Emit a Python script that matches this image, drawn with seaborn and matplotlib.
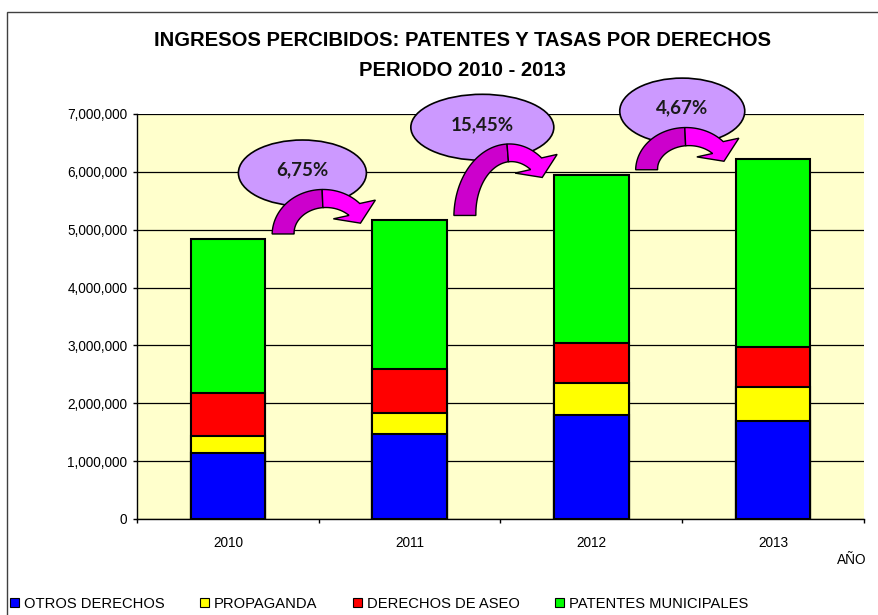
import numpy as np
import pandas as pd
import matplotlib
matplotlib.use("Agg")
import matplotlib.pyplot as plt
import seaborn as sns
from matplotlib.patches import Ellipse, Polygon, Patch, Rectangle
from matplotlib.transforms import IdentityTransform
from matplotlib.ticker import MultipleLocator, FuncFormatter, FixedLocator

# ---------------- data ----------------
years = ["2010", "2011", "2012", "2013"]
otros_derechos = [1140000, 1470000, 1790000, 1700000]
propaganda = [300000, 370000, 560000, 580000]
derechos_aseo = [740000, 760000, 690000, 700000]
patentes_municipales = [2660000, 2560000, 2910000, 3250000]
series_names = ["OTROS DERECHOS", "PROPAGANDA", "DERECHOS DE ASEO", "PATENTES MUNICIPALES"]
growth_labels = ["6,75%", "15,45%", "4,67%"]
title_lines = ["INGRESOS PERCIBIDOS: PATENTES Y TASAS POR DERECHOS", "PERIODO 2010 - 2013"]
x_axis_label = "AÑO"

colors = ["#0000FF", "#FFFF00", "#FF0000", "#00FF00"]

plt.rcParams["font.family"] = ["Liberation Sans", "DejaVu Sans"]

W, H = 879, 615
fig = plt.figure(figsize=(W / 100, H / 100), dpi=100)
fig.patch.set_facecolor("white")
ax = fig.add_axes([137 / W, 96 / H, 727 / W, 405 / H])

df = pd.DataFrame({
    "year": years,
    "otros": otros_derechos,
    "prop": propaganda,
    "aseo": derechos_aseo,
    "pat": patentes_municipales,
})
df["c1"] = df["otros"]
df["c2"] = df["c1"] + df["prop"]
df["c3"] = df["c2"] + df["aseo"]
df["c4"] = df["c3"] + df["pat"]

bar_w = 0.41
for col, colr in reversed(list(zip(["c1", "c2", "c3", "c4"], colors))):
    sns.barplot(data=df, x="year", y=col, color=colr, saturation=1, width=bar_w,
                edgecolor="black", linewidth=1.5, errorbar=None, ax=ax, zorder=3)

ax.set_xlim(-0.5, 3.5)
ax.set_ylim(0, 7000000)
ax.set_facecolor("#FFFFCC")
ax.yaxis.set_major_locator(MultipleLocator(1000000))
ax.yaxis.set_major_formatter(FuncFormatter(lambda v, p: f"{v:,.0f}"))
ax.grid(axis="y", color="black", linewidth=0.9)
ax.grid(axis="x", visible=False)
ax.set_axisbelow(True)
for s in ["top", "right"]:
    ax.spines[s].set_visible(False)
for s in ["left", "bottom"]:
    ax.spines[s].set_color("black")
    ax.spines[s].set_linewidth(1.0)
ax.set_xlabel("")
ax.set_ylabel("")
ax.tick_params(axis="y", length=3, width=1, pad=4, labelsize=9.8, colors="black")
ax.xaxis.set_minor_locator(FixedLocator([-0.5, 0.5, 1.5, 2.5, 3.5]))
ax.tick_params(axis="x", which="major", length=0, pad=12, labelsize=9.8, colors="black")
ax.tick_params(axis="x", which="minor", length=3, width=1, color="black")

fig.text(852 / W, 1 - 560 / H, x_axis_label, ha="center", va="center", fontsize=9.8)

fig.text(462 / W, 1 - 40 / H, title_lines[0], ha="center", va="center",
         fontsize=14.6, fontweight="bold")
fig.text(462 / W, 1 - 70 / H, title_lines[1], ha="center", va="center",
         fontsize=14.6, fontweight="bold")

# outer chart border
fig.add_artist(Rectangle((7 / W, -0.1), 2, (H - 12) / H + 0.1, transform=fig.transFigure,
                         fill=False, edgecolor="#404040", linewidth=1.0))

# legend
handles = [Patch(facecolor=c, edgecolor="black", linewidth=0.8) for c in colors]
fig.legend(handles, series_names, ncol=4, loc="center left",
           bbox_to_anchor=(10 / W, 1 - 604 / H), frameon=False,
           handlelength=0.6, handleheight=0.6, handletextpad=0.35,
           columnspacing=2.4, fontsize=10.6, borderaxespad=0, borderpad=0)

# ---------------- growth ellipses and curved arrows ----------------
totals = df["c4"].tolist()
tr = ax.transData
ell_dx = [0.41, 0.40, 0.50]
ell_w = [128, 143, 125]
ell_h = 66


def curved_arrow(T, Hd, top_outer, w0=22, w1=16, head_len=15, head_half=23,
                 head_deg=-66, split=1.62):
    cy = T[1]
    ry = top_outer - 9.5 - cy
    s = np.clip((Hd[1] - cy) / ry, -0.9, 0.9)
    te = np.arcsin(s)
    c = np.cos(te)
    rx = (Hd[0] - T[0]) / (1 + c)
    cx = T[0] + rx
    n = 90
    th = np.linspace(np.pi, te, n)
    w = np.linspace(w0, w1, n)
    P = np.column_stack([cx + rx * np.cos(th), cy + ry * np.sin(th)])
    Nn = np.column_stack([np.cos(th) / rx, np.sin(th) / ry])
    Nn /= np.linalg.norm(Nn, axis=1)[:, None]
    outer = P + Nn * w[:, None] / 2
    inner = P - Nn * w[:, None] / 2
    a = np.deg2rad(head_deg)
    d = np.array([np.cos(a), np.sin(a)])
    nh = np.array([-d[1], d[0]])
    Hp = P[-1]
    ob = Hp + head_half * nh
    ib = Hp - head_half * nh
    tip = Hp + head_len * d
    k = int(np.argmin(np.abs(th - split)))
    dark = np.vstack([outer[:k + 1], inner[:k + 1][::-1]])
    light = np.vstack([outer[k:], ob, tip, ib, inner[k:][::-1]])
    ax.add_patch(Polygon(dark, closed=True, facecolor="#CC00CC", edgecolor="black",
                         linewidth=1.0, transform=IdentityTransform(), clip_on=False, zorder=7))
    ax.add_patch(Polygon(light, closed=True, facecolor="#FF00FF", edgecolor="black",
                         linewidth=1.0, transform=IdentityTransform(), clip_on=False, zorder=8))


for i in range(3):
    ex, ey = tr.transform((i + ell_dx[i], totals[i + 1] + 820000))
    ax.add_patch(Ellipse((ex, ey), ell_w[i], ell_h, facecolor="#CC99FF", edgecolor="black",
                         linewidth=1.2, transform=IdentityTransform(), clip_on=False, zorder=6))
    ax.text(ex, ey + 3, growth_labels[i], ha="center", va="center", fontsize=13.5,
            fontweight="bold", family=["Lato", "DejaVu Sans"], color="#1a1a1a",
            transform=IdentityTransform(), zorder=9)
    rx_, ry_ = tr.transform((i + bar_w / 2, totals[i]))
    lx_, ly_ = tr.transform((i + 1 - bar_w / 2, totals[i + 1]))
    T = (rx_ + 18, ry_ + 5)
    Hd = (lx_ - 18, ly_ + 11)
    top_outer = ey - ell_h / 2 + 17
    curved_arrow(T, Hd, top_outer)

fig.savefig("out.png", dpi=100)
